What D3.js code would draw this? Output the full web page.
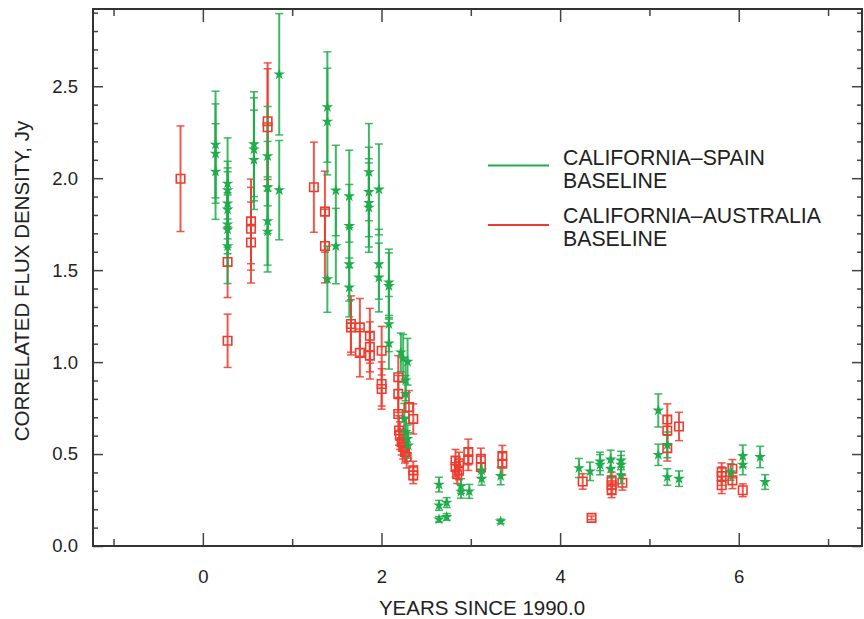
<!DOCTYPE html>
<html lang="en">
<head>
<meta charset="UTF-8">
<title>Correlated flux density</title>
<style>
    body { margin: 0; background: #fff; }
    text { font-family: "Liberation Sans", Arial, sans-serif; fill: #222; }
</style>
</head>
<body>
<svg width="864" height="619"></svg>
<script src="https://d3js.org/d3.v7.min.js"></script>
<script>

    // California-Spain baseline (green stars)
    let spainYears = [0.142, 0.142, 0.142,
        0.277, 0.277, 0.277, 0.277, 0.277, 0.277, 0.277,
        0.572, 0.572, 0.572, 0.725, 0.725, 0.725, 0.725, 0.855, 0.855,
        1.394, 1.394, 1.394, 1.489, 1.489, 1.639, 1.639, 1.639, 1.639,
        1.859, 1.859, 1.859, 1.859, 1.971, 1.971, 1.971,
        2.083, 2.083, 2.083, 2.083,
        2.217, 2.243, 2.292, 2.27, 2.27, 2.255, 2.27, 2.292, 2.30,
        2.644, 2.644, 2.644, 2.73, 2.73, 2.89, 2.89, 2.983, 3.121, 3.121, 3.334, 3.334,
        4.211, 4.335, 4.447, 4.447, 4.566, 4.566, 4.682, 4.682, 4.682,
        5.099, 5.099, 5.2, 5.2, 5.331, 5.909, 6.045, 6.045, 6.239, 6.295];
    let spainFlux = [2.183, 2.134, 2.036,
        1.971, 1.935, 1.863, 1.83, 1.749, 1.722, 1.631,
        2.185, 2.157, 2.10, 2.12, 1.95, 1.767, 1.71, 2.565, 1.935,
        2.387, 2.308, 1.451, 1.933, 1.631, 1.902, 1.74, 1.532, 1.406,
        2.033, 1.925, 1.866, 1.84, 1.939, 1.532, 1.46,
        1.434, 1.414, 1.207, 1.102,
        1.053, 1.02, 1.002, 0.90, 0.827, 0.69, 0.62, 0.583, 0.547,
        0.334, 0.221, 0.145, 0.236, 0.158, 0.326, 0.295, 0.297, 0.411, 0.366, 0.381, 0.134,
        0.424, 0.406, 0.442, 0.46, 0.471, 0.42, 0.465, 0.442, 0.384,
        0.737, 0.496, 0.55, 0.375, 0.366, 0.402, 0.489, 0.442, 0.484, 0.348];
    let spainErr = [0.29, 0.27, 0.26,
        0.248, 0.157, 0.193, 0.205, 0.16, 0.2, 0.204,
        0.285, 0.28, 0.27, 0.27, 0.25, 0.24, 0.22, 0.33, 0.27,
        0.30, 0.29, 0.18, 0.246, 0.205, 0.25, 0.226, 0.2, 0.16,
        0.264, 0.243, 0.24, 0.243, 0.247, 0.19, 0.187,
        0.18, 0.18, 0.15, 0.14,
        0.105, 0.13, 0.127, 0.11, 0.10, 0.085, 0.08, 0.075, 0.07,
        0.04, 0.027, 0.015, 0.027, 0.018, 0.04, 0.035, 0.038, 0.04, 0.035, 0.048, 0.012,
        0.052, 0.05, 0.055, 0.05, 0.05, 0.05, 0.05, 0.05, 0.045,
        0.09, 0.058, 0.07, 0.045, 0.042, 0.045, 0.06, 0.055, 0.058, 0.04];

    // California-Australia baseline (red squares)
    let ausYears = [-0.25, 0.277, 0.277, 0.539, 0.539, 0.539, 0.725, 0.725,
        1.243, 1.367, 1.367, 1.658, 1.658, 1.758, 1.758, 1.87, 1.87, 1.87,
        2.002, 2.002, 2.002,
        2.188, 2.188, 2.188, 2.196, 2.206, 2.225, 2.243, 2.263, 2.282, 2.307, 2.356, 2.356, 2.356,
        2.829, 2.829, 2.868, 2.868, 2.848, 2.972, 2.972, 3.113, 3.113, 3.353, 3.353,
        4.253, 4.352, 4.577, 4.577, 4.577, 4.697,
        5.2, 5.2, 5.2, 5.331, 5.809, 5.809, 5.809, 5.929, 5.929, 6.045];
    let ausFlux = [1.997, 1.544, 1.116, 1.765, 1.725, 1.65, 2.31, 2.277,
        1.951, 1.818, 1.631, 1.207, 1.189, 1.189, 1.05, 1.143, 1.083, 1.035,
        1.062, 0.881, 0.854,
        0.918, 0.827, 0.718, 0.628, 0.60, 0.565, 0.538, 0.511, 0.484, 0.755, 0.691, 0.411, 0.384,
        0.465, 0.43, 0.45, 0.41, 0.39, 0.511, 0.471, 0.474, 0.43, 0.489, 0.447,
        0.351, 0.153, 0.357, 0.33, 0.303, 0.344,
        0.688, 0.628, 0.532, 0.65, 0.402, 0.38, 0.33, 0.42, 0.357, 0.303];
    let ausErr = [0.287, 0.193, 0.145, 0.23, 0.225, 0.22, 0.317, 0.318,
        0.245, 0.22, 0.2, 0.153, 0.15, 0.157, 0.13, 0.149, 0.136, 0.127,
        0.132, 0.12, 0.11,
        0.117, 0.10, 0.09, 0.08, 0.075, 0.07, 0.065, 0.06, 0.06, 0.09, 0.082, 0.05, 0.045,
        0.06, 0.055, 0.06, 0.05, 0.05, 0.07, 0.06, 0.058, 0.058, 0.058, 0.06,
        0.042, 0.01, 0.045, 0.045, 0.04, 0.04,
        0.085, 0.08, 0.07, 0.077, 0.05, 0.05, 0.045, 0.05, 0.045, 0.035];

    let xMajorTicks = [0, 2, 4, 6];
    let xMinorTicks = [-1, 1, 3, 5, 7];
    let yMajorTicks = [0, 0.5, 1.0, 1.5, 2.0, 2.5];
    let yMinorTicks = d3.range(0, 30).map(d => d / 10).filter(d => Math.round(d * 10) % 5 !== 0);

    let legendLabels = [["CALIFORNIA\u2013SPAIN", "BASELINE"], ["CALIFORNIA\u2013AUSTRALIA", "BASELINE"]];

    let green = "#1fad4b", red = "#ee3b2e";

    let svg = d3.select("svg"),
        mLeft = 93, mRight = 862, mTop = 9, mBottom = 546;

    let x = d3.scaleLinear().domain([-1.23, 7.38]).range([mLeft, mRight]),
        y = d3.scaleLinear().domain([0, 2.92]).range([mBottom, mTop]);

    function styleAxis(g) {
        g.select(".domain").remove();
        g.selectAll(".tick line").attr("stroke", "#444").attr("stroke-width", 1.5);
        g.selectAll(".tick text").style("font-size", "18.5px").attr("fill", "#222");
    }

    // bottom / top
    svg.append("g").attr("transform", `translate(0,${mBottom})`)
        .call(d3.axisBottom(x).tickValues(xMajorTicks).tickSize(-13).tickPadding(24).tickFormat(d3.format("d")))
        .call(styleAxis);
    svg.append("g").attr("transform", `translate(0,${mBottom})`)
        .call(d3.axisBottom(x).tickValues(xMinorTicks).tickSize(-7).tickFormat(""))
        .call(styleAxis);
    svg.append("g").attr("transform", `translate(0,${mTop})`)
        .call(d3.axisTop(x).tickValues(xMajorTicks).tickSize(-13).tickFormat(""))
        .call(styleAxis);
    svg.append("g").attr("transform", `translate(0,${mTop})`)
        .call(d3.axisTop(x).tickValues(xMinorTicks).tickSize(-7).tickFormat(""))
        .call(styleAxis);

    // left / right
    svg.append("g").attr("transform", `translate(${mLeft},0)`)
        .call(d3.axisLeft(y).tickValues(yMajorTicks).tickSize(-10).tickPadding(15).tickFormat(d3.format(".1f")))
        .call(styleAxis);
    svg.append("g").attr("transform", `translate(${mLeft},0)`)
        .call(d3.axisLeft(y).tickValues(yMinorTicks).tickSize(-5).tickFormat(""))
        .call(styleAxis);
    svg.append("g").attr("transform", `translate(${mRight},0)`)
        .call(d3.axisRight(y).tickValues(yMajorTicks).tickSize(-10).tickFormat(""))
        .call(styleAxis);
    svg.append("g").attr("transform", `translate(${mRight},0)`)
        .call(d3.axisRight(y).tickValues(yMinorTicks).tickSize(-5).tickFormat(""))
        .call(styleAxis);

    svg.append("rect")
        .attr("x", mLeft).attr("y", mTop)
        .attr("width", mRight - mLeft).attr("height", mBottom - mTop)
        .attr("fill", "none").attr("stroke", "#333").attr("stroke-width", 2);

    // titles
    svg.append("text")
        .attr("x", 482).attr("y", 615)
        .attr("text-anchor", "middle")
        .style("font-size", "20.5px")
        .text("YEARS SINCE 1990.0");
    svg.append("text")
        .attr("transform", "translate(29,281) rotate(-90)")
        .attr("text-anchor", "middle")
        .style("font-size", "20.5px")
        .text("CORRELATED FLUX DENSITY, Jy");

    function errorBars(years, flux, err, color) {
        let g = svg.append("g").attr("stroke", color).attr("stroke-opacity", 0.85);
        years.forEach((t, i) => {
            let cx = x(t), hi = y(flux[i] + err[i]), lo = y(flux[i] - err[i]);
            g.append("line").attr("x1", cx).attr("x2", cx).attr("y1", hi).attr("y2", lo).attr("stroke-width", 2);
            g.append("line").attr("x1", cx - 4).attr("x2", cx + 4).attr("y1", hi).attr("y2", hi).attr("stroke-width", 1.5);
            g.append("line").attr("x1", cx - 4).attr("x2", cx + 4).attr("y1", lo).attr("y2", lo).attr("stroke-width", 1.5);
        });
    }

    errorBars(ausYears, ausFlux, ausErr, red);
    errorBars(spainYears, spainFlux, spainErr, green);

    svg.append("g").selectAll("path")
        .data(ausYears)
        .join("path")
        .attr("transform", (t, i) => `translate(${x(t)},${y(ausFlux[i])})`)
        .attr("d", d3.symbol(d3.symbolSquare, 72))
        .attr("fill", "none")
        .attr("stroke", red)
        .attr("stroke-width", 1.6);

    svg.append("g").selectAll("path")
        .data(spainYears)
        .join("path")
        .attr("transform", (t, i) => `translate(${x(t)},${y(spainFlux[i])})`)
        .attr("d", d3.symbol(d3.symbolStar, 42))
        .attr("fill", green);

    // legend
    let legend = svg.append("g");
    [[green, 165.5, 165], [red, 225, 223]].forEach(([c, ly, ty], i) => {
        legend.append("line")
            .attr("x1", 488).attr("x2", 549).attr("y1", ly).attr("y2", ly)
            .attr("stroke", c).attr("stroke-width", 2);
        legendLabels[i].forEach((s, j) => {
            legend.append("text")
                .attr("x", 563).attr("y", ty + j * 23)
                .style("font-size", "21.3px")
                .text(s);
        });
    });

</script>
</body>
</html>
